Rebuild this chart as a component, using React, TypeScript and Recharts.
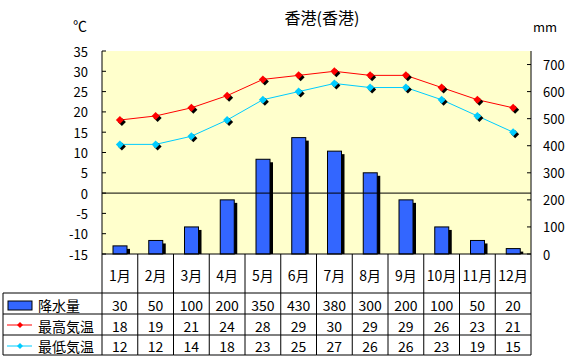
import { Bar, CartesianGrid, ComposedChart, Line, ReferenceLine, XAxis, YAxis } from 'recharts';

const months = ['1月', '2月', '3月', '4月', '5月', '6月', '7月', '8月', '9月', '10月', '11月', '12月'];
const rainfall = [30, 50, 100, 200, 350, 430, 380, 300, 200, 100, 50, 20];
const maxTemp = [18, 19, 21, 24, 28, 29, 30, 29, 29, 26, 23, 21];
const minTemp = [12, 12, 14, 18, 23, 25, 27, 26, 26, 23, 19, 15];
const tempTicks = [-15, -10, -5, 0, 5, 10, 15, 20, 25, 30, 35];
const rainTicks = [0, 100, 200, 300, 400, 500, 600, 700];

const data = months.map((month, i) => ({ month, rain: rainfall[i], high: maxTemp[i], low: minTemp[i] }));

const FONT = '"Noto Sans CJK JP", sans-serif';
const PLOT_LEFT = 102;
const PLOT_RIGHT = 531;
const BAND = (PLOT_RIGHT - PLOT_LEFT) / months.length;
const ROW_LINES = [293, 314, 335, 355];
const ROW_TEXT = [275, 305, 326, 346];
const RED = '#FF0000';
const CYAN = '#00CCFF';
const BLUE = '#3366FF';

function Diamond({ cx, cy, fill, r = 4 }: { cx: number; cy: number; fill: string; r?: number }) {
  return <polygon points={`${cx},${cy - r} ${cx + r},${cy} ${cx},${cy + r} ${cx - r},${cy}`} fill={fill} />;
}

function makeDot(color: string) {
  return (props: any) => {
    const { cx, cy, index } = props;
    if (cx == null || cy == null) return <g key={index} />;
    return (
      <g key={index}>
        <Diamond cx={cx + 2} cy={cy + 2} fill="#000" />
        <Diamond cx={cx} cy={cy} fill={color} />
      </g>
    );
  };
}

function ShadowBar(props: any) {
  const { x, y, width, height } = props;
  return (
    <g>
      <rect x={x + 3} y={y + 3} width={width} height={Math.max(height - 3, 0)} fill="#000" />
      <rect x={x} y={y} width={width} height={height} fill={BLUE} stroke="#000" />
    </g>
  );
}

function LeftTick(props: any) {
  const { x, y, payload } = props;
  const axisX = x + 14;
  return (
    <g>
      <line x1={axisX} x2={axisX + 4} y1={y} y2={y} stroke="#000" />
      <text x={x} y={y} textAnchor="end" dominantBaseline="central" fontFamily={FONT} fontSize={13} fill="#000">
        {payload.value}
      </text>
    </g>
  );
}

function RightTick(props: any) {
  const { x, y, payload } = props;
  const axisX = x - 12;
  return (
    <g>
      <line x1={axisX - 4} x2={axisX} y1={y} y2={y} stroke="#000" />
      <text x={x} y={y} textAnchor="start" dominantBaseline="central" fontFamily={FONT} fontSize={13} fill="#000">
        {payload.value}
      </text>
    </g>
  );
}

function LegendColumn({ right }: { right: number }) {
  const left = 3;
  return (
    <g>
      <line x1={left} x2={left} y1={ROW_LINES[0]} y2={ROW_LINES[3]} stroke="#000" />
      {ROW_LINES.map((ly) => (
        <line key={ly} x1={left} x2={right} y1={ly} y2={ly} stroke="#000" />
      ))}
      <rect x={8} y={301} width={24} height={9} fill={BLUE} stroke="#000" />
      <line x1={7} x2={32} y1={325} y2={325} stroke={RED} />
      <Diamond cx={20} cy={325} fill={RED} r={3} />
      <line x1={7} x2={32} y1={346} y2={346} stroke={CYAN} />
      <Diamond cx={20} cy={346} fill={CYAN} r={3} />
      <text x={38} y={ROW_TEXT[1]} dominantBaseline="central" fontFamily={FONT} fontSize={14} fill="#000">降水量</text>
      <text x={38} y={ROW_TEXT[2]} dominantBaseline="central" fontFamily={FONT} fontSize={14} fill="#000">最高気温</text>
      <text x={38} y={ROW_TEXT[3]} dominantBaseline="central" fontFamily={FONT} fontSize={14} fill="#000">最低気温</text>
    </g>
  );
}

function TableTick(props: any) {
  const { x, y, index, payload } = props;
  const half = BAND / 2;
  const left = x - half;
  const right = x + half;
  const values = [rainfall[index], maxTemp[index], minTemp[index]];
  return (
    <g>
      {index === 0 && <line x1={left} x2={left} y1={y} y2={ROW_LINES[3]} stroke="#000" />}
      <line x1={right} x2={right} y1={y} y2={ROW_LINES[3]} stroke="#000" />
      {ROW_LINES.map((ly) => (
        <line key={ly} x1={left} x2={right} y1={ly} y2={ly} stroke="#000" />
      ))}
      <text x={x} y={ROW_TEXT[0]} textAnchor="middle" dominantBaseline="central" fontFamily={FONT} fontSize={14} fill="#000">
        {payload.value}
      </text>
      {values.map((v, r) => (
        <text key={r} x={x} y={ROW_TEXT[r + 1]} textAnchor="middle" dominantBaseline="central" fontFamily={FONT} fontSize={14} fill="#000">
          {v}
        </text>
      ))}
      {index === 0 && <LegendColumn right={left} />}
    </g>
  );
}

export default function App() {
  return (
    <div style={{ position: 'relative', width: 572, height: 359, background: '#fff', fontFamily: FONT }}>
      <style>{'body{margin:0}'}</style>
      <div style={{ position: 'absolute', left: 222, width: 200, top: 5, textAlign: 'center', fontSize: 16, lineHeight: '24px' }}>
        香港(香港)
      </div>
      <div style={{ position: 'absolute', left: 73, top: 15, fontSize: 14, lineHeight: '20px' }}>℃</div>
      <div style={{ position: 'absolute', left: 533, top: 17, fontSize: 13, lineHeight: '20px' }}>mm</div>
      <ComposedChart width={572} height={359} data={data} margin={{ top: 51, right: 0, bottom: 0, left: 0 }}>
        <CartesianGrid horizontal={false} vertical={false} fill="#FFFFCC" />
        <XAxis
          dataKey="month"
          xAxisId={0}
          height={105}
          interval={0}
          tickSize={0}
          tickMargin={0}
          tickLine={false}
          axisLine={{ stroke: '#000' }}
          tick={<TableTick />}
        />
        <YAxis
          yAxisId="temp"
          orientation="left"
          width={102}
          domain={[-15, 35]}
          ticks={tempTicks}
          interval={0}
          tickSize={0}
          tickMargin={14}
          tickLine={false}
          axisLine={{ stroke: '#000' }}
          tick={<LeftTick />}
        />
        <YAxis
          yAxisId="rain"
          orientation="right"
          width={41}
          domain={[0, 750]}
          ticks={rainTicks}
          interval={0}
          tickSize={0}
          tickMargin={12}
          tickLine={false}
          axisLine={{ stroke: '#000' }}
          tick={<RightTick />}
        />
        <Bar yAxisId="rain" dataKey="rain" barSize={14} shape={<ShadowBar />} isAnimationActive={false} />
        <ReferenceLine yAxisId="temp" y={0} stroke="#000" />
        <Line
          yAxisId="temp"
          dataKey="high"
          stroke={RED}
          strokeWidth={1}
          dot={makeDot(RED)}
          activeDot={false}
          isAnimationActive={false}
        />
        <Line
          yAxisId="temp"
          dataKey="low"
          stroke={CYAN}
          strokeWidth={1}
          dot={makeDot(CYAN)}
          activeDot={false}
          isAnimationActive={false}
        />
      </ComposedChart>
    </div>
  );
}
